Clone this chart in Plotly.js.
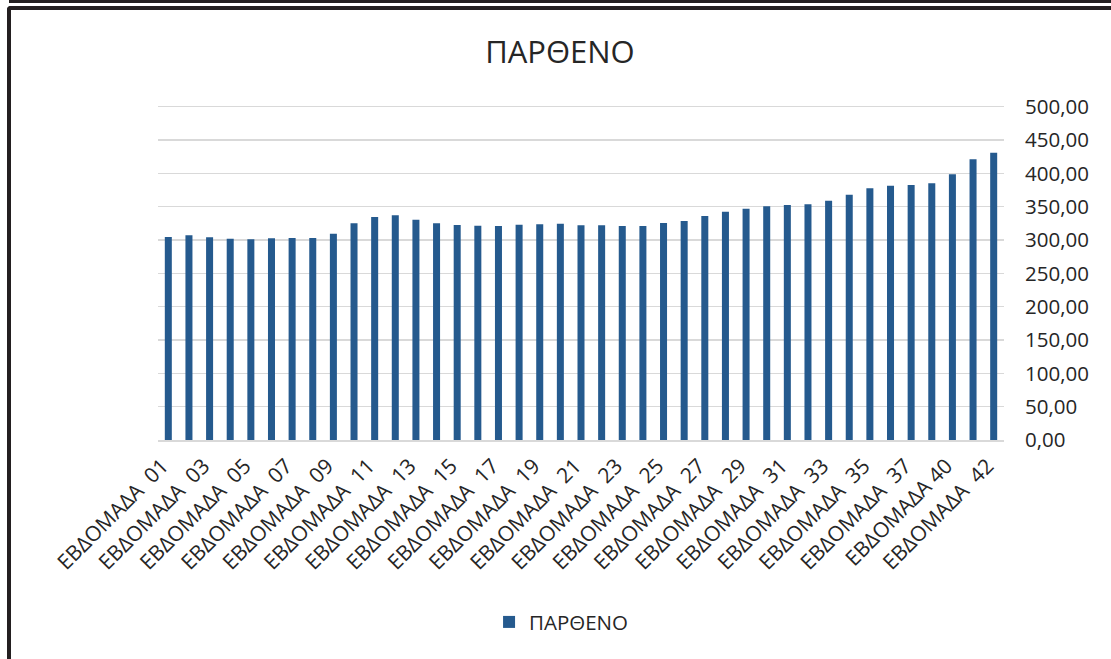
<!DOCTYPE html>
<html>
<head>
<meta charset="utf-8">
<script src="https://cdn.plot.ly/plotly-3.0.1.min.js"></script>
<style>
  html, body { margin: 0; padding: 0; background: #fff; overflow: hidden; }
  #topline { position: absolute; left: 9px; top: 0; width: 1102px; height: 3px; background: #231f20; }
  #frame { position: absolute; left: 7px; top: 6px; width: 1120px; height: 700px;
           border-top: 4px solid #231f20; border-left: 4px solid #231f20; border-top-left-radius: 4px; }
  #chart { position: absolute; left: 0; top: 0; width: 1111px; height: 659px; }
</style>
</head>
<body>
<div id="topline"></div>
<div id="frame"></div>
<div id="chart"></div>
<script>
// weekly price, one bar per week (week 39 not in the sheet)
const weeks = [
  "01", "02", "03", "04", "05", "06", "07", "08", "09", "10",
  "11", "12", "13", "14", "15", "16", "17", "18", "19", "20",
  "21", "22", "23", "24", "25", "26", "27", "28", "29", "30",
  "31", "32", "33", "34", "35", "36", "37", "38", "40", "41", "42",
];
const prices = [
  304.5, 307, 304, 302, 301, 302.5, 303, 303, 309.5, 325,
  334.5, 337, 330.5, 325, 322.5, 321.5, 321, 323, 323.5, 324.5,
  322, 322, 321, 321, 325.5, 328.5, 336, 342.5, 347, 350.5,
  352.5, 353.5, 359, 368, 377.5, 381.5, 382.5, 385, 398.5, 421, 431,
];
const seriesName = "ΠΑΡΘΕΝΟ";
const yTicks = [0, 50, 100, 150, 200, 250, 300, 350, 400, 450, 500];

const BAR_COLOR = "#255a8e";
const GRID = "#d9d9d9";
const FONT = "Open Sans, sans-serif";

const cats = weeks.map((w) => "ΕΒΔΟΜΑΔΑ " + w);
// only every other week gets a label, like the excel axis
const tickIdx = cats.map((_, i) => i).filter((i) => i % 2 === 0);
const tickText = tickIdx.map((i) =>
  weeks[i] === "40" ? "ΕΒΔΟΜΑΔΑ\u00a0" + weeks[i] : "ΕΒΔΟΜΑΔΑ\u00a0\u00a0" + weeks[i]);

const trace = {
  type: "bar",
  x: cats,
  y: prices,
  name: seriesName,
  marker: { color: BAR_COLOR },
  hoverinfo: "x+y",
};

const layout = {
  width: 1111,
  height: 659,
  paper_bgcolor: "rgba(0,0,0,0)",
  plot_bgcolor: "rgba(0,0,0,0)",
  separators: ",.",
  font: { family: FONT, color: "#262626", size: 19 },
  // range goes a bit past 500 so plotly keeps the top gridline
  margin: { l: 158, r: 107, t: 104, b: 219 },
  bargap: 0.66,
  title: {
    text: "ΠΑΡΘΕΝΟ",
    font: { size: 31, color: "#262626" },
    x: 0.504, xref: "container", xanchor: "center",
    y: 0.921, yref: "container", yanchor: "middle",
  },
  xaxis: {
    type: "category",
    tickvals: tickIdx.map((i) => cats[i]),
    ticktext: tickText,
    tickangle: -45,
    tickfont: { size: 21 },
    ticks: "",
    ticklabelstandoff: 4,
    ticklabelshift: -6,
    showgrid: false,
    showline: true,
    linecolor: GRID,
    linewidth: 1.5,
  },
  yaxis: {
    side: "right",
    range: [0, 504],
    tickvals: yTicks,
    tickformat: ".2f",
    tickfont: { size: 20.5 },
    ticks: "",
    ticklabelstandoff: 20,
    gridcolor: GRID,
    gridwidth: 1.5,
    zeroline: false,
    showline: false,
  },
  showlegend: true,
  legend: {
    orientation: "h",
    x: 0.505, xref: "container", xanchor: "center",
    y: 0.056, yref: "container", yanchor: "middle",
    font: { size: 20.5 },
  },
};

Plotly.newPlot("chart", [trace], layout, { displayModeBar: false, staticPlot: true });
</script>
</body>
</html>
